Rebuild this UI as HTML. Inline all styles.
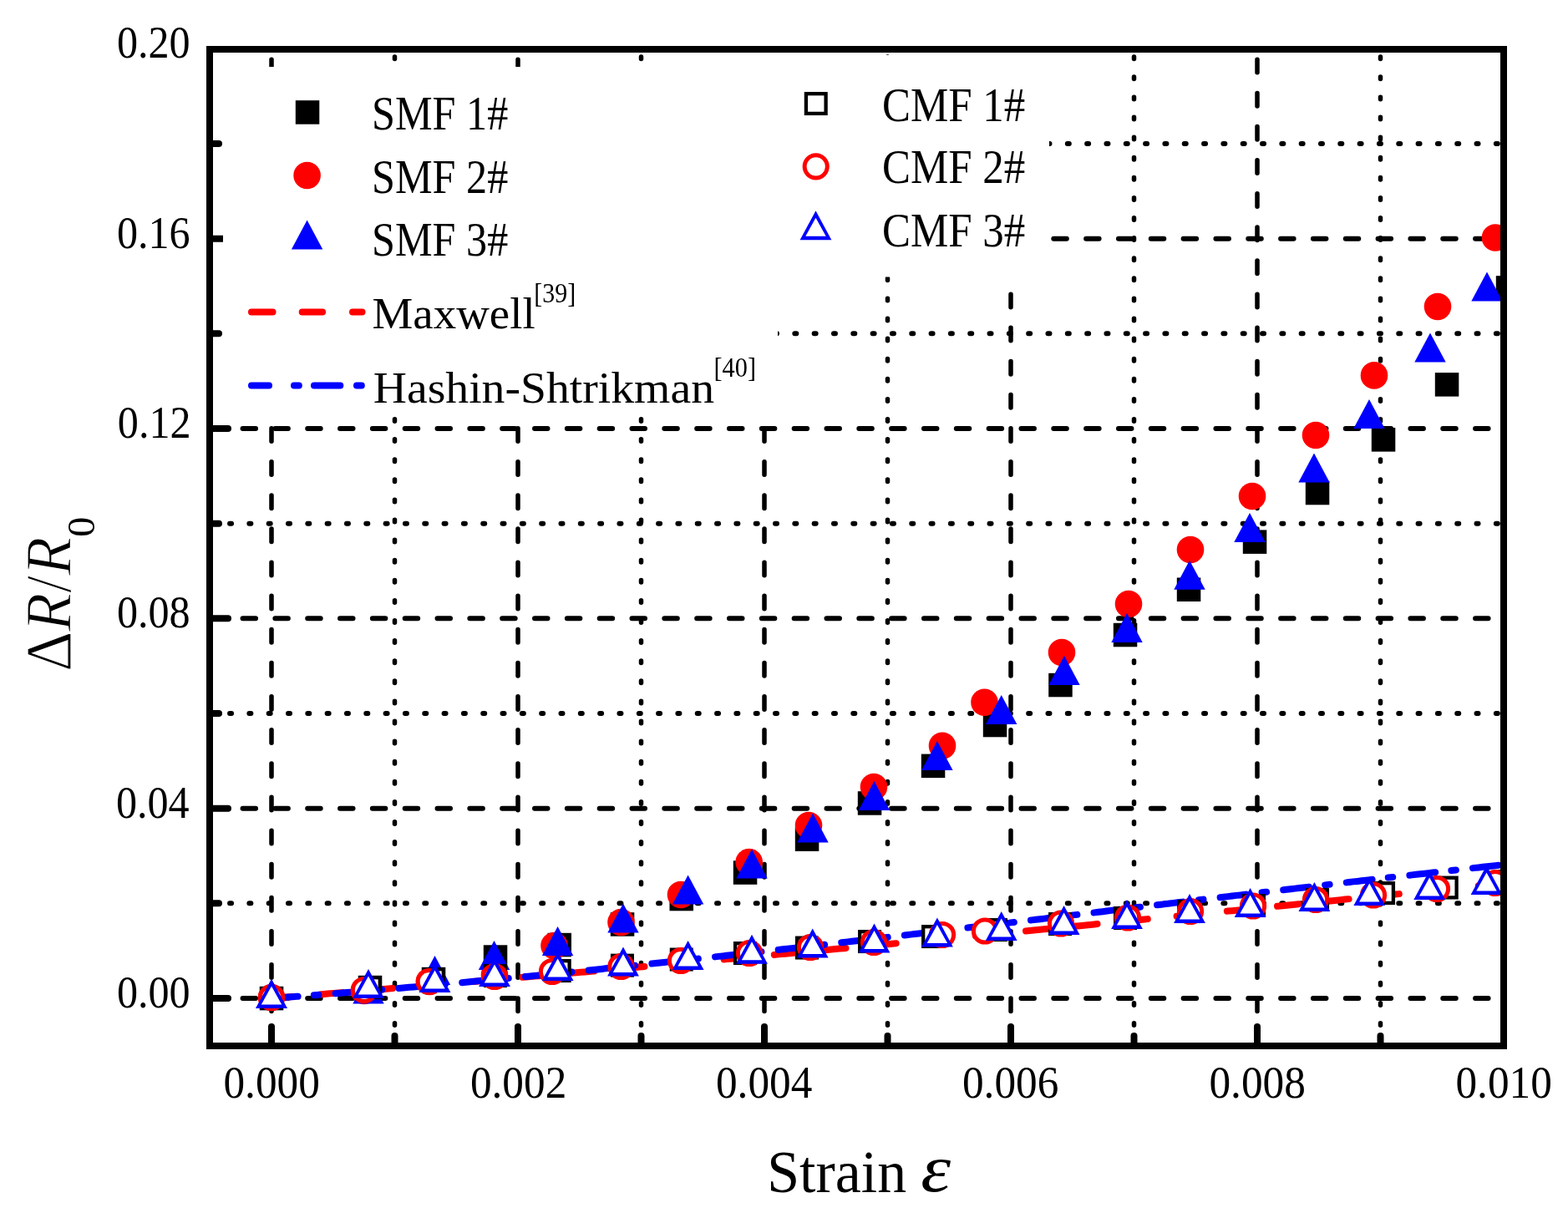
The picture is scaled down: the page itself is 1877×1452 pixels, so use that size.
<!DOCTYPE html>
<html><head><meta charset="utf-8"><title>Strain plot</title>
<style>html,body{margin:0;padding:0;background:#fff;}svg{display:block;}</style>
</head><body>
<svg width="1877" height="1452" viewBox="0 0 1877 1452">
<defs><clipPath id="pc"><rect x="255" y="63" width="1541" height="1185"/></clipPath></defs>
<rect x="0" y="0" width="1877" height="1452" fill="#fff"/>
<g clip-path="url(#pc)" stroke="#000" stroke-linecap="round"><line x1="255" y1="1195.0" x2="1796" y2="1195.0" stroke-width="6" stroke-dasharray="15.5 23.33" stroke-dashoffset="3.29"/><line x1="255" y1="967.7" x2="1796" y2="967.7" stroke-width="6" stroke-dasharray="15.5 23.33" stroke-dashoffset="3.29"/><line x1="255" y1="740.3" x2="1796" y2="740.3" stroke-width="6" stroke-dasharray="15.5 23.33" stroke-dashoffset="3.29"/><line x1="255" y1="513.0" x2="1796" y2="513.0" stroke-width="6" stroke-dasharray="15.5 23.33" stroke-dashoffset="3.29"/><line x1="255" y1="285.7" x2="1796" y2="285.7" stroke-width="6" stroke-dasharray="15.5 23.33" stroke-dashoffset="3.29"/><line x1="255" y1="1081.3" x2="1796" y2="1081.3" stroke-width="6" stroke-dasharray="2 21.32" stroke-dashoffset="3.27"/><line x1="255" y1="854.0" x2="1796" y2="854.0" stroke-width="6" stroke-dasharray="2 21.32" stroke-dashoffset="3.27"/><line x1="255" y1="626.7" x2="1796" y2="626.7" stroke-width="6" stroke-dasharray="2 21.32" stroke-dashoffset="3.27"/><line x1="255" y1="399.3" x2="1796" y2="399.3" stroke-width="6" stroke-dasharray="2 21.32" stroke-dashoffset="3.27"/><line x1="255" y1="172.0" x2="1796" y2="172.0" stroke-width="6" stroke-dasharray="2 21.32" stroke-dashoffset="3.27"/><line x1="325.0" y1="63" x2="325.0" y2="1248" stroke-width="5.5" stroke-dasharray="15.5 24.63" stroke-dashoffset="31.86"/><line x1="620.0" y1="63" x2="620.0" y2="1248" stroke-width="5.5" stroke-dasharray="15.5 24.63" stroke-dashoffset="31.86"/><line x1="915.0" y1="63" x2="915.0" y2="1248" stroke-width="5.5" stroke-dasharray="15.5 24.63" stroke-dashoffset="31.86"/><line x1="1210.0" y1="63" x2="1210.0" y2="1248" stroke-width="5.5" stroke-dasharray="15.5 24.63" stroke-dashoffset="31.86"/><line x1="1505.0" y1="63" x2="1505.0" y2="1248" stroke-width="5.5" stroke-dasharray="15.5 24.63" stroke-dashoffset="31.86"/><line x1="472.5" y1="63" x2="472.5" y2="1248" stroke-width="5.5" stroke-dasharray="2.5 21.60" stroke-dashoffset="19.15"/><line x1="767.5" y1="63" x2="767.5" y2="1248" stroke-width="5.5" stroke-dasharray="2.5 21.60" stroke-dashoffset="19.15"/><line x1="1062.5" y1="63" x2="1062.5" y2="1248" stroke-width="5.5" stroke-dasharray="2.5 21.60" stroke-dashoffset="19.15"/><line x1="1357.5" y1="63" x2="1357.5" y2="1248" stroke-width="5.5" stroke-dasharray="2.5 21.60" stroke-dashoffset="19.15"/><line x1="1652.5" y1="63" x2="1652.5" y2="1248" stroke-width="5.5" stroke-dasharray="2.5 21.60" stroke-dashoffset="19.15"/></g>
<g stroke="#000" stroke-width="8" stroke-linecap="round"><line x1="251" y1="1195.0" x2="273" y2="1195.0"/><line x1="251" y1="967.7" x2="273" y2="967.7"/><line x1="251" y1="740.3" x2="273" y2="740.3"/><line x1="251" y1="513.0" x2="273" y2="513.0"/><line x1="251" y1="285.7" x2="273" y2="285.7"/><line x1="251" y1="1081.3" x2="262" y2="1081.3"/><line x1="251" y1="854.0" x2="262" y2="854.0"/><line x1="251" y1="626.7" x2="262" y2="626.7"/><line x1="251" y1="399.3" x2="262" y2="399.3"/><line x1="251" y1="172.0" x2="262" y2="172.0"/><line x1="325.0" y1="1252" x2="325.0" y2="1229"/><line x1="620.0" y1="1252" x2="620.0" y2="1229"/><line x1="915.0" y1="1252" x2="915.0" y2="1229"/><line x1="1210.0" y1="1252" x2="1210.0" y2="1229"/><line x1="1505.0" y1="1252" x2="1505.0" y2="1229"/><line x1="472.5" y1="1252" x2="472.5" y2="1240"/><line x1="767.5" y1="1252" x2="767.5" y2="1240"/><line x1="1062.5" y1="1252" x2="1062.5" y2="1240"/><line x1="1357.5" y1="1252" x2="1357.5" y2="1240"/><line x1="1652.5" y1="1252" x2="1652.5" y2="1240"/></g>
<rect x="267" y="80" width="664" height="418" fill="#fff"/>
<rect x="905" y="66" width="351" height="265.5" fill="#fff"/>
<g clip-path="url(#pc)" fill="none" stroke-width="8" stroke-linecap="round" stroke-linejoin="round">
<polyline points="325.0,1195.0 330.0,1194.6 335.0,1194.2 340.0,1193.8 345.0,1193.4 350.0,1193.0 355.0,1192.6 360.0,1192.2 365.0,1191.8 370.0,1191.4 375.0,1191.0 380.0,1190.6 385.0,1190.2 390.0,1189.7 395.0,1189.3 400.0,1188.9 405.0,1188.5 410.0,1188.1 415.0,1187.7 420.0,1187.3 425.0,1186.9 430.0,1186.5 435.0,1186.0 440.0,1185.6 445.0,1185.2 450.0,1184.8 455.0,1184.4 460.0,1184.0 465.0,1183.6 470.0,1183.1 475.0,1182.7 480.0,1182.3 485.0,1181.9 490.0,1181.5 495.0,1181.0 500.0,1180.6 505.0,1180.2 510.0,1179.8 515.0,1179.4 520.0,1178.9 525.0,1178.5 530.0,1178.1 535.0,1177.7 540.0,1177.2 545.0,1176.8 550.0,1176.4 555.0,1176.0 560.0,1175.5 565.0,1175.1 570.0,1174.7 575.0,1174.3 580.0,1173.8 585.0,1173.4 590.0,1173.0 595.0,1172.5 600.0,1172.1 605.0,1171.7 610.0,1171.2 615.0,1170.8 620.0,1170.4 625.0,1169.9 630.0,1169.5 635.0,1169.1 640.0,1168.6 645.0,1168.2 650.0,1167.8 655.0,1167.3 660.0,1166.9 665.0,1166.5 670.0,1166.0 675.0,1165.6 680.0,1165.1 685.0,1164.7 690.0,1164.3 695.0,1163.8 700.0,1163.4 705.0,1162.9 710.0,1162.5 715.0,1162.1 720.0,1161.6 725.0,1161.2 730.0,1160.7 735.0,1160.3 740.0,1159.8 745.0,1159.4 750.0,1158.9 755.0,1158.5 760.0,1158.1 765.0,1157.6 770.0,1157.2 775.0,1156.7 780.0,1156.3 785.0,1155.8 790.0,1155.4 795.0,1154.9 800.0,1154.5 805.0,1154.0 810.0,1153.6 815.0,1153.1 820.0,1152.7 825.0,1152.2 830.0,1151.8 835.0,1151.3 840.0,1150.8 845.0,1150.4 850.0,1149.9 855.0,1149.5 860.0,1149.0 865.0,1148.6 870.0,1148.1 875.0,1147.7 880.0,1147.2 885.0,1146.7 890.0,1146.3 895.0,1145.8 900.0,1145.4 905.0,1144.9 910.0,1144.4 915.0,1144.0 920.0,1143.5 925.0,1143.1 930.0,1142.6 935.0,1142.1 940.0,1141.7 945.0,1141.2 950.0,1140.7 955.0,1140.3 960.0,1139.8 965.0,1139.4 970.0,1138.9 975.0,1138.4 980.0,1138.0 985.0,1137.5 990.0,1137.0 995.0,1136.6 1000.0,1136.1 1005.0,1135.6 1010.0,1135.2 1015.0,1134.7 1020.0,1134.2 1025.0,1133.7 1030.0,1133.3 1035.0,1132.8 1040.0,1132.3 1045.0,1131.9 1050.0,1131.4 1055.0,1130.9 1060.0,1130.5 1065.0,1130.0 1070.0,1129.5 1075.0,1129.0 1080.0,1128.6 1085.0,1128.1 1090.0,1127.6 1095.0,1127.1 1100.0,1126.7 1105.0,1126.2 1110.0,1125.7 1115.0,1125.2 1120.0,1124.8 1125.0,1124.3 1130.0,1123.8 1135.0,1123.3 1140.0,1122.9 1145.0,1122.4 1150.0,1121.9 1155.0,1121.4 1160.0,1120.9 1165.0,1120.5 1170.0,1120.0 1175.0,1119.5 1180.0,1119.0 1185.0,1118.5 1190.0,1118.1 1195.0,1117.6 1200.0,1117.1 1205.0,1116.6 1210.0,1116.1 1215.0,1115.6 1220.0,1115.2 1225.0,1114.7 1230.0,1114.2 1235.0,1113.7 1240.0,1113.2 1245.0,1112.7 1250.0,1112.3 1255.0,1111.8 1260.0,1111.3 1265.0,1110.8 1270.0,1110.3 1275.0,1109.8 1280.0,1109.3 1285.0,1108.9 1290.0,1108.4 1295.0,1107.9 1300.0,1107.4 1305.0,1106.9 1310.0,1106.4 1315.0,1105.9 1320.0,1105.4 1325.0,1105.0 1330.0,1104.5 1335.0,1104.0 1340.0,1103.5 1345.0,1103.0 1350.0,1102.5 1355.0,1102.0 1360.0,1101.5 1365.0,1101.0 1370.0,1100.5 1375.0,1100.0 1380.0,1099.6 1385.0,1099.1 1390.0,1098.6 1395.0,1098.1 1400.0,1097.6 1405.0,1097.1 1410.0,1096.6 1415.0,1096.1 1420.0,1095.6 1425.0,1095.1 1430.0,1094.6 1435.0,1094.1 1440.0,1093.6 1445.0,1093.1 1450.0,1092.6 1455.0,1092.1 1460.0,1091.6 1465.0,1091.1 1470.0,1090.6 1475.0,1090.2 1480.0,1089.7 1485.0,1089.2 1490.0,1088.7 1495.0,1088.2 1500.0,1087.7 1505.0,1087.2 1510.0,1086.7 1515.0,1086.2 1520.0,1085.7 1525.0,1085.2 1530.0,1084.7 1535.0,1084.2 1540.0,1083.7 1545.0,1083.2 1550.0,1082.7 1555.0,1082.2 1560.0,1081.7 1565.0,1081.2 1570.0,1080.7 1575.0,1080.2 1580.0,1079.7 1585.0,1079.2 1590.0,1078.7 1595.0,1078.2 1600.0,1077.7 1605.0,1077.1 1610.0,1076.6 1615.0,1076.1 1620.0,1075.6 1625.0,1075.1 1630.0,1074.6 1635.0,1074.1 1640.0,1073.6 1645.0,1073.1 1650.0,1072.6 1655.0,1072.1 1660.0,1071.6 1665.0,1071.1 1670.0,1070.6 1675.0,1070.1 1680.0,1069.6 1685.0,1069.1 1690.0,1068.6 1695.0,1068.1 1700.0,1067.6 1705.0,1067.1 1710.0,1066.6 1715.0,1066.0 1720.0,1065.5 1725.0,1065.0 1730.0,1064.5 1735.0,1064.0 1740.0,1063.5 1745.0,1063.0 1750.0,1062.5 1755.0,1062.0 1760.0,1061.5 1765.0,1061.0 1770.0,1060.5 1775.0,1060.0 1780.0,1059.4 1785.0,1058.9 1790.0,1058.4 1795.0,1057.9 1800.0,1057.4 1805.0,1056.9 1810.0,1056.4 1815.0,1055.9 1820.0,1055.4 1825.0,1054.9 1830.0,1054.4" stroke="#f00" stroke-dasharray="25.5 35" stroke-dashoffset="0.90"/>
<polyline points="325.0,1195.0 330.0,1194.6 335.0,1194.3 340.0,1193.9 345.0,1193.5 350.0,1193.2 355.0,1192.8 360.0,1192.4 365.0,1192.0 370.0,1191.6 375.0,1191.3 380.0,1190.9 385.0,1190.5 390.0,1190.1 395.0,1189.7 400.0,1189.3 405.0,1188.9 410.0,1188.5 415.0,1188.1 420.0,1187.7 425.0,1187.3 430.0,1186.9 435.0,1186.5 440.0,1186.0 445.0,1185.6 450.0,1185.2 455.0,1184.8 460.0,1184.4 465.0,1183.9 470.0,1183.5 475.0,1183.1 480.0,1182.7 485.0,1182.2 490.0,1181.8 495.0,1181.4 500.0,1180.9 505.0,1180.5 510.0,1180.0 515.0,1179.6 520.0,1179.1 525.0,1178.7 530.0,1178.3 535.0,1177.8 540.0,1177.3 545.0,1176.9 550.0,1176.4 555.0,1176.0 560.0,1175.5 565.0,1175.0 570.0,1174.6 575.0,1174.1 580.0,1173.6 585.0,1173.2 590.0,1172.7 595.0,1172.2 600.0,1171.8 605.0,1171.3 610.0,1170.8 615.0,1170.3 620.0,1169.8 625.0,1169.4 630.0,1168.9 635.0,1168.4 640.0,1167.9 645.0,1167.4 650.0,1166.9 655.0,1166.4 660.0,1165.9 665.0,1165.4 670.0,1164.9 675.0,1164.4 680.0,1163.9 685.0,1163.4 690.0,1162.9 695.0,1162.4 700.0,1161.9 705.0,1161.4 710.0,1160.9 715.0,1160.4 720.0,1159.9 725.0,1159.3 730.0,1158.8 735.0,1158.3 740.0,1157.8 745.0,1157.3 750.0,1156.7 755.0,1156.2 760.0,1155.7 765.0,1155.2 770.0,1154.6 775.0,1154.1 780.0,1153.6 785.0,1153.1 790.0,1152.5 795.0,1152.0 800.0,1151.4 805.0,1150.9 810.0,1150.4 815.0,1149.8 820.0,1149.3 825.0,1148.8 830.0,1148.2 835.0,1147.7 840.0,1147.1 845.0,1146.6 850.0,1146.0 855.0,1145.5 860.0,1144.9 865.0,1144.4 870.0,1143.8 875.0,1143.3 880.0,1142.7 885.0,1142.2 890.0,1141.6 895.0,1141.0 900.0,1140.5 905.0,1139.9 910.0,1139.4 915.0,1138.8 920.0,1138.2 925.0,1137.7 930.0,1137.1 935.0,1136.6 940.0,1136.0 945.0,1135.4 950.0,1134.9 955.0,1134.3 960.0,1133.7 965.0,1133.1 970.0,1132.6 975.0,1132.0 980.0,1131.4 985.0,1130.9 990.0,1130.3 995.0,1129.7 1000.0,1129.1 1005.0,1128.6 1010.0,1128.0 1015.0,1127.4 1020.0,1126.8 1025.0,1126.2 1030.0,1125.7 1035.0,1125.1 1040.0,1124.5 1045.0,1123.9 1050.0,1123.3 1055.0,1122.7 1060.0,1122.2 1065.0,1121.6 1070.0,1121.0 1075.0,1120.4 1080.0,1119.8 1085.0,1119.2 1090.0,1118.6 1095.0,1118.0 1100.0,1117.5 1105.0,1116.9 1110.0,1116.3 1115.0,1115.7 1120.0,1115.1 1125.0,1114.5 1130.0,1113.9 1135.0,1113.3 1140.0,1112.7 1145.0,1112.1 1150.0,1111.5 1155.0,1110.9 1160.0,1110.3 1165.0,1109.7 1170.0,1109.2 1175.0,1108.6 1180.0,1108.0 1185.0,1107.4 1190.0,1106.8 1195.0,1106.2 1200.0,1105.6 1205.0,1105.0 1210.0,1104.4 1215.0,1103.8 1220.0,1103.2 1225.0,1102.6 1230.0,1102.0 1235.0,1101.4 1240.0,1100.8 1245.0,1100.2 1250.0,1099.6 1255.0,1099.0 1260.0,1098.4 1265.0,1097.8 1270.0,1097.2 1275.0,1096.6 1280.0,1096.0 1285.0,1095.4 1290.0,1094.8 1295.0,1094.2 1300.0,1093.6 1305.0,1093.0 1310.0,1092.4 1315.0,1091.8 1320.0,1091.2 1325.0,1090.5 1330.0,1089.9 1335.0,1089.3 1340.0,1088.7 1345.0,1088.1 1350.0,1087.5 1355.0,1086.9 1360.0,1086.3 1365.0,1085.7 1370.0,1085.1 1375.0,1084.5 1380.0,1083.9 1385.0,1083.3 1390.0,1082.7 1395.0,1082.1 1400.0,1081.5 1405.0,1080.9 1410.0,1080.3 1415.0,1079.7 1420.0,1079.1 1425.0,1078.5 1430.0,1077.9 1435.0,1077.3 1440.0,1076.7 1445.0,1076.1 1450.0,1075.5 1455.0,1074.9 1460.0,1074.3 1465.0,1073.7 1470.0,1073.1 1475.0,1072.5 1480.0,1071.9 1485.0,1071.4 1490.0,1070.8 1495.0,1070.2 1500.0,1069.6 1505.0,1069.0 1510.0,1068.4 1515.0,1067.8 1520.0,1067.2 1525.0,1066.6 1530.0,1066.0 1535.0,1065.4 1540.0,1064.8 1545.0,1064.2 1550.0,1063.6 1555.0,1063.1 1560.0,1062.5 1565.0,1061.9 1570.0,1061.3 1575.0,1060.7 1580.0,1060.1 1585.0,1059.5 1590.0,1058.9 1595.0,1058.4 1600.0,1057.8 1605.0,1057.2 1610.0,1056.6 1615.0,1056.0 1620.0,1055.4 1625.0,1054.9 1630.0,1054.3 1635.0,1053.7 1640.0,1053.1 1645.0,1052.5 1650.0,1052.0 1655.0,1051.4 1660.0,1050.8 1665.0,1050.2 1670.0,1049.7 1675.0,1049.1 1680.0,1048.5 1685.0,1048.0 1690.0,1047.4 1695.0,1046.8 1700.0,1046.2 1705.0,1045.7 1710.0,1045.1 1715.0,1044.5 1720.0,1044.0 1725.0,1043.4 1730.0,1042.8 1735.0,1042.3 1740.0,1041.7 1745.0,1041.2 1750.0,1040.6 1755.0,1040.0 1760.0,1039.5 1765.0,1038.9 1770.0,1038.4 1775.0,1037.8 1780.0,1037.3 1785.0,1036.7 1790.0,1036.2 1795.0,1035.6 1800.0,1035.1 1805.0,1034.5 1810.0,1034.0 1815.0,1033.4 1820.0,1032.9 1825.0,1032.3 1830.0,1031.8" stroke="#00f" stroke-dasharray="31 19.3 5.5 20.3" stroke-dashoffset="75.42"/>
</g>
<g clip-path="url(#pc)"><rect x="310.8" y="1180.8" width="28.5" height="28.5" fill="#000"/><rect x="428.8" y="1167.8" width="28.5" height="28.5" fill="#000"/><rect x="504.8" y="1157.8" width="28.5" height="28.5" fill="#000"/><rect x="578.8" y="1131.3" width="28.5" height="28.5" fill="#000"/><rect x="655.5" y="1116.8" width="28.5" height="28.5" fill="#000"/><rect x="730.8" y="1092.2" width="28.5" height="28.5" fill="#000"/><rect x="801.5" y="1061.8" width="28.5" height="28.5" fill="#000"/><rect x="877.8" y="1030.3" width="28.5" height="28.5" fill="#000"/><rect x="951.8" y="990.4" width="28.5" height="28.5" fill="#000"/><rect x="1026.8" y="947.2" width="28.5" height="28.5" fill="#000"/><rect x="1102.8" y="902.6" width="28.5" height="28.5" fill="#000"/><rect x="1176.8" y="853.8" width="28.5" height="28.5" fill="#000"/><rect x="1255.2" y="805.8" width="28.5" height="28.5" fill="#000"/><rect x="1332.8" y="745.8" width="28.5" height="28.5" fill="#000"/><rect x="1408.8" y="691.5" width="28.5" height="28.5" fill="#000"/><rect x="1487.8" y="634.4" width="28.5" height="28.5" fill="#000"/><rect x="1562.8" y="575.8" width="28.5" height="28.5" fill="#000"/><rect x="1641.8" y="512.1" width="28.5" height="28.5" fill="#000"/><rect x="1717.8" y="446.1" width="28.5" height="28.5" fill="#000"/><rect x="1790.8" y="330.2" width="28.5" height="28.5" fill="#000"/><circle cx="325.0" cy="1194.0" r="16.3" fill="#f00"/><circle cx="436.0" cy="1186.0" r="16.3" fill="#f00"/><circle cx="514.0" cy="1175.0" r="16.3" fill="#f00"/><circle cx="592.0" cy="1167.0" r="16.3" fill="#f00"/><circle cx="663.5" cy="1132.0" r="16.3" fill="#f00"/><circle cx="743.5" cy="1104.0" r="16.3" fill="#f00"/><circle cx="815.0" cy="1071.0" r="16.3" fill="#f00"/><circle cx="896.7" cy="1032.0" r="16.3" fill="#f00"/><circle cx="968.0" cy="988.0" r="16.3" fill="#f00"/><circle cx="1046.0" cy="942.0" r="16.3" fill="#f00"/><circle cx="1128.0" cy="892.7" r="16.3" fill="#f00"/><circle cx="1178.5" cy="840.7" r="16.3" fill="#f00"/><circle cx="1271.0" cy="781.0" r="16.3" fill="#f00"/><circle cx="1351.0" cy="723.0" r="16.3" fill="#f00"/><circle cx="1425.0" cy="658.0" r="16.3" fill="#f00"/><circle cx="1499.0" cy="594.0" r="16.3" fill="#f00"/><circle cx="1575.0" cy="521.0" r="16.3" fill="#f00"/><circle cx="1645.0" cy="449.4" r="16.3" fill="#f00"/><circle cx="1721.0" cy="367.0" r="16.3" fill="#f00"/><circle cx="1790.0" cy="284.5" r="16.3" fill="#f00"/><polygon points="325.0,1172.0 343.7,1207.0 306.3,1207.0" fill="#00f"/><polygon points="441.0,1166.5 459.7,1201.5 422.3,1201.5" fill="#00f"/><polygon points="520.5,1144.0 539.2,1179.0 501.8,1179.0" fill="#00f"/><polygon points="591.5,1126.0 610.2,1161.0 572.8,1161.0" fill="#00f"/><polygon points="667.6,1109.0 686.3,1144.0 648.9,1144.0" fill="#00f"/><polygon points="746.0,1081.5 764.7,1116.5 727.3,1116.5" fill="#00f"/><polygon points="823.6,1047.5 842.3,1082.5 804.9,1082.5" fill="#00f"/><polygon points="900.0,1016.5 918.7,1051.5 881.3,1051.5" fill="#00f"/><polygon points="973.0,973.4 991.7,1008.4 954.3,1008.4" fill="#00f"/><polygon points="1046.5,935.0 1065.2,970.0 1027.8,970.0" fill="#00f"/><polygon points="1121.9,887.0 1140.6,922.0 1103.2,922.0" fill="#00f"/><polygon points="1198.7,832.0 1217.4,867.0 1180.0,867.0" fill="#00f"/><polygon points="1274.0,785.0 1292.7,820.0 1255.3,820.0" fill="#00f"/><polygon points="1349.0,734.0 1367.7,769.0 1330.3,769.0" fill="#00f"/><polygon points="1424.0,670.7 1442.7,705.7 1405.3,705.7" fill="#00f"/><polygon points="1496.0,614.0 1514.7,649.0 1477.3,649.0" fill="#00f"/><polygon points="1573.0,542.5 1591.7,577.5 1554.3,577.5" fill="#00f"/><polygon points="1639.0,478.0 1657.7,513.0 1620.3,513.0" fill="#00f"/><polygon points="1712.0,398.6 1730.7,433.6 1693.3,433.6" fill="#00f"/><polygon points="1780.0,325.6 1798.7,360.6 1761.3,360.6" fill="#00f"/><rect x="313.1" y="1183.2" width="23.7" height="23.7" fill="#fff" stroke="#000" stroke-width="4.3"/><rect x="431.1" y="1170.2" width="23.7" height="23.7" fill="#fff" stroke="#000" stroke-width="4.3"/><rect x="507.1" y="1160.2" width="23.7" height="23.7" fill="#fff" stroke="#000" stroke-width="4.3"/><rect x="581.1" y="1156.2" width="23.7" height="23.7" fill="#fff" stroke="#000" stroke-width="4.3"/><rect x="657.9" y="1150.2" width="23.7" height="23.7" fill="#fff" stroke="#000" stroke-width="4.3"/><rect x="733.1" y="1143.8" width="23.7" height="23.7" fill="#fff" stroke="#000" stroke-width="4.3"/><rect x="803.9" y="1136.7" width="23.7" height="23.7" fill="#fff" stroke="#000" stroke-width="4.3"/><rect x="880.1" y="1129.2" width="23.7" height="23.7" fill="#fff" stroke="#000" stroke-width="4.3"/><rect x="954.1" y="1122.7" width="23.7" height="23.7" fill="#fff" stroke="#000" stroke-width="4.3"/><rect x="1029.2" y="1115.2" width="23.7" height="23.7" fill="#fff" stroke="#000" stroke-width="4.3"/><rect x="1105.2" y="1109.2" width="23.7" height="23.7" fill="#fff" stroke="#000" stroke-width="4.3"/><rect x="1180.2" y="1101.2" width="23.7" height="23.7" fill="#fff" stroke="#000" stroke-width="4.3"/><rect x="1257.2" y="1094.2" width="23.7" height="23.7" fill="#fff" stroke="#000" stroke-width="4.3"/><rect x="1335.2" y="1087.2" width="23.7" height="23.7" fill="#fff" stroke="#000" stroke-width="4.3"/><rect x="1411.2" y="1079.2" width="23.7" height="23.7" fill="#fff" stroke="#000" stroke-width="4.3"/><rect x="1489.2" y="1072.2" width="23.7" height="23.7" fill="#fff" stroke="#000" stroke-width="4.3"/><rect x="1565.2" y="1065.2" width="23.7" height="23.7" fill="#fff" stroke="#000" stroke-width="4.3"/><rect x="1644.2" y="1057.2" width="23.7" height="23.7" fill="#fff" stroke="#000" stroke-width="4.3"/><rect x="1719.9" y="1050.7" width="23.7" height="23.7" fill="#fff" stroke="#000" stroke-width="4.3"/><rect x="1793.2" y="1043.2" width="23.7" height="23.7" fill="#fff" stroke="#000" stroke-width="4.3"/><circle cx="325.0" cy="1194.0" r="13.6" fill="#fff" stroke="#f00" stroke-width="5"/><circle cx="436.0" cy="1185.0" r="13.6" fill="#fff" stroke="#f00" stroke-width="5"/><circle cx="513.8" cy="1175.0" r="13.6" fill="#fff" stroke="#f00" stroke-width="5"/><circle cx="592.0" cy="1169.0" r="13.6" fill="#fff" stroke="#f00" stroke-width="5"/><circle cx="661.0" cy="1163.0" r="13.6" fill="#fff" stroke="#f00" stroke-width="5"/><circle cx="743.5" cy="1157.0" r="13.6" fill="#fff" stroke="#f00" stroke-width="5"/><circle cx="815.0" cy="1150.0" r="13.6" fill="#fff" stroke="#f00" stroke-width="5"/><circle cx="897.0" cy="1141.0" r="13.6" fill="#fff" stroke="#f00" stroke-width="5"/><circle cx="970.0" cy="1134.0" r="13.6" fill="#fff" stroke="#f00" stroke-width="5"/><circle cx="1046.0" cy="1128.0" r="13.6" fill="#fff" stroke="#f00" stroke-width="5"/><circle cx="1128.0" cy="1119.0" r="13.6" fill="#fff" stroke="#f00" stroke-width="5"/><circle cx="1179.0" cy="1114.5" r="13.6" fill="#fff" stroke="#f00" stroke-width="5"/><circle cx="1270.0" cy="1105.5" r="13.6" fill="#fff" stroke="#f00" stroke-width="5"/><circle cx="1350.0" cy="1098.5" r="13.6" fill="#fff" stroke="#f00" stroke-width="5"/><circle cx="1425.0" cy="1091.0" r="13.6" fill="#fff" stroke="#f00" stroke-width="5"/><circle cx="1500.0" cy="1084.5" r="13.6" fill="#fff" stroke="#f00" stroke-width="5"/><circle cx="1575.0" cy="1077.0" r="13.6" fill="#fff" stroke="#f00" stroke-width="5"/><circle cx="1644.0" cy="1071.5" r="13.6" fill="#fff" stroke="#f00" stroke-width="5"/><circle cx="1720.0" cy="1064.0" r="13.6" fill="#fff" stroke="#f00" stroke-width="5"/><circle cx="1790.0" cy="1057.0" r="13.6" fill="#fff" stroke="#f00" stroke-width="5"/><polygon points="325.0,1172.0 343.9,1207.0 306.1,1207.0" fill="#00f"/><polygon points="325.0,1180.5 337.2,1202.5 312.8,1202.5" fill="#fff"/><polygon points="441.0,1160.0 459.9,1195.0 422.1,1195.0" fill="#00f"/><polygon points="441.0,1168.5 453.2,1190.5 428.8,1190.5" fill="#fff"/><polygon points="520.5,1153.0 539.4,1188.0 501.6,1188.0" fill="#00f"/><polygon points="520.5,1161.5 532.7,1183.5 508.3,1183.5" fill="#fff"/><polygon points="592.0,1146.0 610.9,1181.0 573.1,1181.0" fill="#00f"/><polygon points="592.0,1154.5 604.2,1176.5 579.8,1176.5" fill="#fff"/><polygon points="667.6,1139.0 686.5,1174.0 648.7,1174.0" fill="#00f"/><polygon points="667.6,1147.5 679.8,1169.5 655.4,1169.5" fill="#fff"/><polygon points="746.0,1133.5 764.9,1168.5 727.1,1168.5" fill="#00f"/><polygon points="746.0,1142.0 758.2,1164.0 733.8,1164.0" fill="#fff"/><polygon points="823.6,1126.0 842.5,1161.0 804.7,1161.0" fill="#00f"/><polygon points="823.6,1134.5 835.8,1156.5 811.4,1156.5" fill="#fff"/><polygon points="900.0,1118.8 918.9,1153.8 881.1,1153.8" fill="#00f"/><polygon points="900.0,1127.3 912.2,1149.3 887.8,1149.3" fill="#fff"/><polygon points="972.7,1111.5 991.6,1146.5 953.8,1146.5" fill="#00f"/><polygon points="972.7,1120.0 984.9,1142.0 960.5,1142.0" fill="#fff"/><polygon points="1046.5,1105.5 1065.4,1140.5 1027.6,1140.5" fill="#00f"/><polygon points="1046.5,1114.0 1058.7,1136.0 1034.3,1136.0" fill="#fff"/><polygon points="1121.9,1098.5 1140.8,1133.5 1103.0,1133.5" fill="#00f"/><polygon points="1121.9,1107.0 1134.1,1129.0 1109.7,1129.0" fill="#fff"/><polygon points="1198.7,1091.0 1217.6,1126.0 1179.8,1126.0" fill="#00f"/><polygon points="1198.7,1099.5 1210.9,1121.5 1186.5,1121.5" fill="#fff"/><polygon points="1273.6,1084.0 1292.5,1119.0 1254.7,1119.0" fill="#00f"/><polygon points="1273.6,1092.5 1285.8,1114.5 1261.4,1114.5" fill="#fff"/><polygon points="1349.0,1077.0 1367.9,1112.0 1330.1,1112.0" fill="#00f"/><polygon points="1349.0,1085.5 1361.2,1107.5 1336.8,1107.5" fill="#fff"/><polygon points="1424.0,1070.0 1442.9,1105.0 1405.1,1105.0" fill="#00f"/><polygon points="1424.0,1078.5 1436.2,1100.5 1411.8,1100.5" fill="#fff"/><polygon points="1496.6,1063.0 1515.5,1098.0 1477.7,1098.0" fill="#00f"/><polygon points="1496.6,1071.5 1508.8,1093.5 1484.4,1093.5" fill="#fff"/><polygon points="1573.4,1056.0 1592.3,1091.0 1554.5,1091.0" fill="#00f"/><polygon points="1573.4,1064.5 1585.6,1086.5 1561.2,1086.5" fill="#fff"/><polygon points="1639.3,1049.0 1658.2,1084.0 1620.4,1084.0" fill="#00f"/><polygon points="1639.3,1057.5 1651.5,1079.5 1627.1,1079.5" fill="#fff"/><polygon points="1711.2,1042.0 1730.1,1077.0 1692.3,1077.0" fill="#00f"/><polygon points="1711.2,1050.5 1723.4,1072.5 1699.0,1072.5" fill="#fff"/><polygon points="1779.5,1036.0 1798.4,1071.0 1760.6,1071.0" fill="#00f"/><polygon points="1779.5,1044.5 1791.7,1066.5 1767.3,1066.5" fill="#fff"/></g>
<rect x="251" y="59" width="1549" height="1193" fill="none" stroke="#000" stroke-width="8"/>
<text transform="matrix(0.9461 0 0 1.0286 139.91 1206.00)" font-family="Liberation Serif, serif" font-size="53" fill="#000">0.00</text><text transform="matrix(0.9461 0 0 1.0286 138.96 978.67)" font-family="Liberation Serif, serif" font-size="53" fill="#000">0.04</text><text transform="matrix(0.9461 0 0 1.0286 139.91 751.34)" font-family="Liberation Serif, serif" font-size="53" fill="#000">0.08</text><text transform="matrix(0.9461 0 0 1.0286 140.85 524.01)" font-family="Liberation Serif, serif" font-size="53" fill="#000">0.12</text><text transform="matrix(0.9461 0 0 1.0286 139.91 296.68)" font-family="Liberation Serif, serif" font-size="53" fill="#000">0.16</text><text transform="matrix(0.9461 0 0 1.0286 139.91 69.35)" font-family="Liberation Serif, serif" font-size="53" fill="#000">0.20</text><text transform="matrix(0.9678 0 0 1.0371 267.41 1313.90)" font-family="Liberation Serif, serif" font-size="53" fill="#000">0.000</text><text transform="matrix(0.9678 0 0 1.0371 562.90 1313.90)" font-family="Liberation Serif, serif" font-size="53" fill="#000">0.002</text><text transform="matrix(0.9678 0 0 1.0371 856.93 1313.90)" font-family="Liberation Serif, serif" font-size="53" fill="#000">0.004</text><text transform="matrix(0.9678 0 0 1.0371 1151.93 1313.90)" font-family="Liberation Serif, serif" font-size="53" fill="#000">0.006</text><text transform="matrix(0.9678 0 0 1.0371 1447.41 1313.90)" font-family="Liberation Serif, serif" font-size="53" fill="#000">0.008</text><text transform="matrix(0.9678 0 0 1.0371 1742.41 1313.90)" font-family="Liberation Serif, serif" font-size="53" fill="#000">0.010</text>
<text transform="matrix(1.0588 0 0 1.0767 918.26 1427.20)" font-family="Liberation Serif, serif" font-size="66" fill="#000">Strain</text>
<text transform="matrix(1.3800 0 0 1.2065 1102.32 1425.99)" font-family="Liberation Serif, serif" font-size="66" fill="#000"><tspan font-style="italic">ε</tspan></text>
<text transform="translate(84.08 804.02) rotate(-90) scale(1.0740 1.1191)" font-family="Liberation Serif, serif" font-size="70" stroke="#fff" stroke-width="1.1">Δ<tspan font-style="italic">R</tspan>/<tspan font-style="italic">R</tspan></text>
<text transform="translate(112.70 642.79) rotate(-90) scale(1.0944 1.0552)" font-family="Liberation Serif, serif" font-size="44" >0</text>
<g><rect x="353.8" y="120.2" width="28.5" height="28.5" fill="#000"/><circle cx="367.6" cy="210.0" r="16.3" fill="#f00"/><polygon points="367.6,263.5 386.3,298.5 348.9,298.5" fill="#00f"/><g stroke="#f00" stroke-width="8" stroke-linecap="round"><line x1="301" y1="373.5" x2="326.5" y2="373.5"/><line x1="361.7" y1="373.5" x2="386.1" y2="373.5"/><line x1="422" y1="373.5" x2="433.5" y2="373.5"/></g><g stroke="#00f" stroke-width="8" stroke-linecap="round"><line x1="301" y1="461.5" x2="322" y2="461.5"/><line x1="352" y1="461.5" x2="357.8" y2="461.5"/><line x1="376" y1="461.5" x2="407.3" y2="461.5"/><line x1="427" y1="461.5" x2="432.8" y2="461.5"/></g><rect x="964.9" y="112.2" width="23.7" height="23.7" fill="#fff" stroke="#000" stroke-width="4.3"/><circle cx="976.7" cy="199.3" r="13.6" fill="#fff" stroke="#f00" stroke-width="5"/><polygon points="976.5,252.3 995.4,287.3 957.6,287.3" fill="#00f"/><polygon points="976.5,260.8 988.7,282.8 964.3,282.8" fill="#fff"/></g>
<text transform="matrix(0.9473 0 0 1.0571 445.01 154.90)" font-family="Liberation Serif, serif" font-size="53" fill="#000">SMF 1#</text><text transform="matrix(0.9473 0 0 1.0571 445.01 230.50)" font-family="Liberation Serif, serif" font-size="53" fill="#000">SMF 2#</text><text transform="matrix(0.9473 0 0 1.0571 445.01 305.90)" font-family="Liberation Serif, serif" font-size="53" fill="#000">SMF 3#</text><text transform="matrix(0.9611 0 0 1.0600 1055.98 145.00)" font-family="Liberation Serif, serif" font-size="53" fill="#000">CMF 1#</text><text transform="matrix(0.9611 0 0 1.0600 1055.98 219.40)" font-family="Liberation Serif, serif" font-size="53" fill="#000">CMF 2#</text><text transform="matrix(0.9611 0 0 1.0600 1055.98 295.00)" font-family="Liberation Serif, serif" font-size="53" fill="#000">CMF 3#</text><text transform="matrix(1.0357 0 0 1.0026 445.53 393.40)" font-family="Liberation Serif, serif" font-size="53" fill="#000">Maxwell</text><text transform="matrix(0.7879 0 0 0.8935 639.24 361.83)" font-family="Liberation Serif, serif" font-size="38" fill="#000">[39]</text><text transform="matrix(1.0508 0 0 1.0027 446.70 482.10)" font-family="Liberation Serif, serif" font-size="53" fill="#000">Hashin-Shtrikman</text><text transform="matrix(0.7983 0 0 0.8710 854.51 450.65)" font-family="Liberation Serif, serif" font-size="38" fill="#000">[40]</text>
</svg>
</body></html>
